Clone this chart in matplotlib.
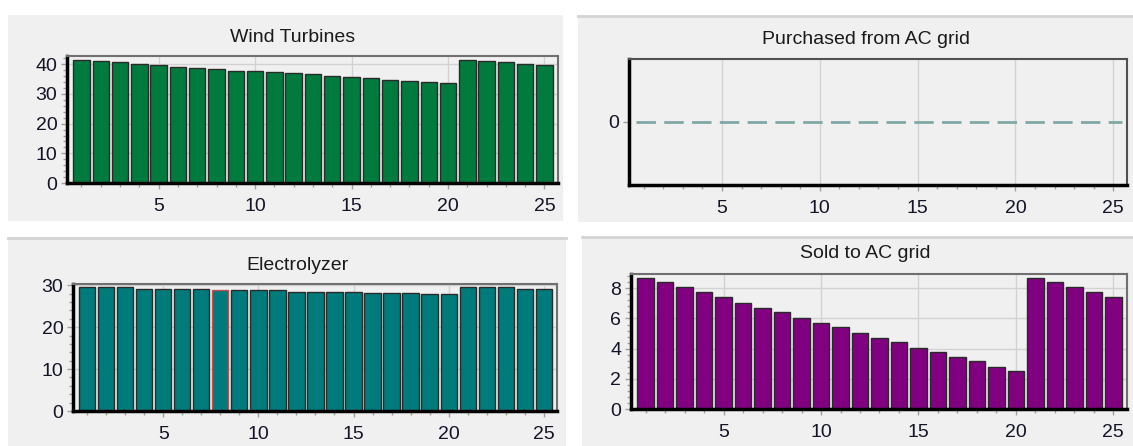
import numpy as np
import matplotlib
matplotlib.use('Agg')
import matplotlib.pyplot as plt
from matplotlib.patches import Rectangle
from matplotlib.ticker import MultipleLocator, AutoMinorLocator

plt.rcParams['font.family'] = ['Liberation Sans', 'DejaVu Sans']

# дані (години 1..25)
hours = np.arange(1, 26)
wind = [41.3, 41.0, 40.7, 40.2, 39.7, 39.2, 38.8, 38.3, 37.9, 37.9,
        37.5, 37.1, 36.6, 36.2, 35.7, 35.3, 34.8, 34.5, 34.0, 33.6,
        41.3, 41.0, 40.7, 40.2, 39.7]
purchased = [0] * 25
electro = [29.6, 29.6, 29.6, 29.2, 29.2, 29.2, 29.2, 28.8, 28.8, 28.8,
           28.8, 28.5, 28.5, 28.5, 28.5, 28.2, 28.2, 28.2, 27.9, 27.9,
           29.6, 29.6, 29.6, 29.2, 29.2]
sold = [8.67, 8.40, 8.07, 7.76, 7.42, 7.04, 6.69, 6.40, 6.04, 5.69,
        5.42, 5.07, 4.69, 4.44, 4.07, 3.80, 3.42, 3.18, 2.80, 2.53,
        8.67, 8.40, 8.07, 7.76, 7.42]

W, H = 1133, 446
BG = '#f0f0f0'
fig = plt.figure(figsize=(W / 100, H / 100), dpi=100)
fig.patch.set_facecolor('white')

# сірі панелі (x0, y0, x1, y1 в пікселях) + чи є сіра лінія зверху
for x0, y0, x1, y1, top in [(8, 15, 563, 221, False), (578, 15, 1133, 222, True),
                            (8, 237, 566, 446, True), (582, 236, 1133, 446, True)]:
    fig.patches.append(Rectangle((x0 / W, 1 - y1 / H), (x1 - x0) / W, (y1 - y0) / H,
                                 transform=fig.transFigure, facecolor=BG,
                                 edgecolor='none', zorder=-2))
    if top:
        fig.add_artist(plt.Line2D([x0 / W, x1 / W], [1 - (y0 + 1) / H] * 2,
                                  color='#d4d4d4', lw=2, transform=fig.transFigure, zorder=-1))


def make_ax(l, r, t, b):
    ax = fig.add_axes([l / W, 1 - b / H, (r - l) / W, (b - t) / H])
    ax.set_facecolor(BG)
    ax.set_xlim(0.25, 25.7)
    ax.xaxis.set_major_locator(MultipleLocator(5))
    ax.xaxis.set_minor_locator(MultipleLocator(1))
    ax.grid(True, which='major', color='#d2d2d2', lw=1)
    ax.set_axisbelow(True)
    ax.tick_params(which='both', colors='#a0a0a0', labelcolor='#141428',
                   labelsize=14, direction='out')
    ax.tick_params(which='major', length=4, width=1)
    ax.tick_params(which='minor', length=3, width=1)
    ax.tick_params(axis='x', pad=7)
    ax.tick_params(axis='y', pad=3)
    for s in ['top', 'right']:
        ax.spines[s].set_color('#707070')
        ax.spines[s].set_linewidth(1.5)
    for s in ['left', 'bottom']:
        ax.spines[s].set_color('black')
        ax.spines[s].set_linewidth(2.5)
    return ax


# Wind Turbines
ax1 = make_ax(67, 558, 56, 183)
ax1.bar(hours, wind, width=0.85, color='#007a3d', edgecolor='#2a2a2a', lw=1)
ax1.set_ylim(0, 42.8)
ax1.yaxis.set_major_locator(MultipleLocator(10))
ax1.yaxis.set_minor_locator(AutoMinorLocator(5))
fig.text(293 / W, 1 - 37 / H, 'Wind Turbines', ha='center', va='center', fontsize=14, color='#1a1a1a')

# Purchased from AC grid
ax2 = make_ax(629, 1127, 59, 185)
ax2.stairs(purchased, np.r_[hours - 0.4, hours[-1] + 0.45], baseline=None,
           color='#80a8a6', lw=2, ls=(0, (7, 3)))
ax2.set_ylim(-1, 1)
ax2.set_yticks([0])
ax2.grid(False, axis='y')
ax2.spines['top'].set_color('#505050')
ax2.spines['right'].set_color('#505050')
fig.text(866 / W, 1 - 39 / H, 'Purchased from AC grid', ha='center', va='center', fontsize=14, color='#1a1a1a')

# Electrolyzer
ax3 = make_ax(73, 557, 284, 411)
edges = ['#2a2a2a'] * len(hours)
edges[7] = '#c05050'
ax3.bar(hours, electro, width=0.85, color='#007b7b', edgecolor=edges, lw=1)
ax3.set_ylim(0, 30.3)
ax3.yaxis.set_major_locator(MultipleLocator(10))
ax3.yaxis.set_minor_locator(AutoMinorLocator(5))
fig.text(297 / W, 1 - 266 / H, 'Electrolyzer', ha='center', va='center', fontsize=14, color='#1a1a1a')

# Sold to AC grid
ax4 = make_ax(631, 1127, 274, 409)
ax4.bar(hours, sold, width=0.85, color='#800080', edgecolor='#2a2a2a', lw=1)
ax4.set_ylim(0, 8.95)
ax4.yaxis.set_major_locator(MultipleLocator(2))
ax4.yaxis.set_minor_locator(AutoMinorLocator(5))
fig.text(865 / W, 1 - 254 / H, 'Sold to AC grid', ha='center', va='center', fontsize=14, color='#1a1a1a')

fig.savefig('out.png', dpi=100, facecolor='white')
